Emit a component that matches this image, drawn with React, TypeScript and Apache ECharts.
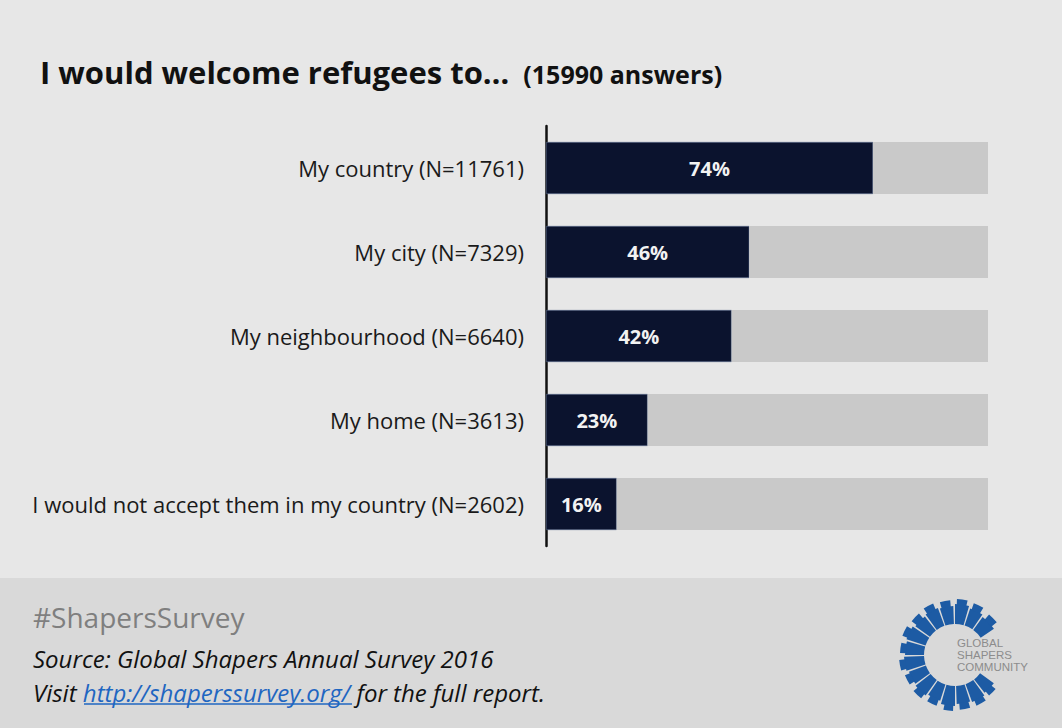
import React, { useEffect, useRef } from "react";
import * as echarts from "echarts";

const categories = [
  "My country (N=11761)",
  "My city (N=7329)",
  "My neighbourhood (N=6640)",
  "My home (N=3613)",
  "I would not accept them in my country (N=2602)",
];
const percentValues = [74, 46, 42, 23, 16];
const remainderValues = percentValues.map((v) => 100 - v);

const titleMain = "I would welcome refugees to…";
const titleSub = "(15990 answers)";
const hashtag = "#ShapersSurvey";
const sourceText = "Source: Global Shapers Annual Survey 2016";
const linkText = "http://shaperssurvey.org/";

// decorative logo segments: [startDeg, endDeg, outerRadius, towerStartDeg, towerEndDeg, towerRadius]
const logoSegments: [number, number, number, number, number, number][] = [
  [36, 52, 48, 40, 50, 53],
  [54, 70, 50, 56, 67, 55],
  [72, 88, 49, 74, 85, 55],
  [90, 106, 51, 92, 102, 56],
  [108, 124, 48, 110, 121, 54],
  [126, 142, 50, 128, 139, 55],
  [144, 160, 49, 147, 158, 54],
  [162, 178, 51, 164, 175, 56],
  [180, 196, 50, 182, 193, 55],
  [198, 214, 51, 200, 211, 56],
  [216, 232, 49, 218, 229, 55],
  [234, 250, 50, 236, 247, 56],
  [252, 268, 49, 254, 265, 55],
  [270, 286, 51, 272, 283, 56],
  [288, 304, 49, 290, 301, 55],
  [306, 326, 47, 310, 322, 53],
];

export default function App() {
  const ref = useRef<HTMLDivElement>(null);
  useEffect(() => {
    if (!ref.current) return;
    const chart = echarts.init(ref.current, undefined, { renderer: "svg" });
    const font = "'Open Sans', 'Noto Sans', sans-serif";
    const cx = 955;
    const cy = 655;
    const rad = (d: number) => (d * Math.PI) / 180;
    const logoEls: any[] = [];
    logoSegments.forEach(([a, b, r, ta, tb, tr]) => {
      logoEls.push({
        type: "sector",
        shape: { cx, cy, r0: 31, r, startAngle: rad(a), endAngle: rad(b) },
        style: { fill: "#1d5ba4" },
        silent: true,
      });
      logoEls.push({
        type: "sector",
        shape: { cx, cy, r0: r - 1, r: tr, startAngle: rad(ta), endAngle: rad(tb) },
        style: { fill: "#1d5ba4" },
        silent: true,
      });
    });
    const footSize = 24;
    chart.setOption({
      animation: false,
      backgroundColor: "#e7e7e7",
      textStyle: { fontFamily: font },
      grid: { left: 546, top: 126, width: 442, height: 420, containLabel: false },
      xAxis: {
        type: "value",
        min: 0,
        max: 100,
        show: false,
      },
      yAxis: {
        type: "category",
        data: categories,
        inverse: true,
        axisLine: { show: true, lineStyle: { color: "#111111", width: 2.5 } },
        axisTick: { show: false },
        axisLabel: { color: "#1a1a1a", fontSize: 22, margin: 22, fontFamily: font },
      },
      series: [
        {
          type: "bar",
          stack: "s",
          data: percentValues,
          barWidth: 52,
          itemStyle: { color: "#0b132e", borderColor: "#5d6d8f", borderWidth: 0.6 },
          label: {
            show: true,
            position: "inside",
            formatter: "{c}%",
            color: "#f2f2f2",
            fontSize: 20,
            fontWeight: "bold",
            fontFamily: font,
          },
        },
        {
          type: "bar",
          stack: "s",
          data: remainderValues,
          barWidth: 52,
          itemStyle: { color: "#c9c9c9" },
        },
      ],
      graphic: [
        {
          type: "rect",
          shape: { x: 0, y: 578, width: 1062, height: 150 },
          style: { fill: "#d9d9d9" },
          silent: true,
          z: -1,
        },
        {
          type: "text",
          x: 40,
          y: 72,
          style: {
            text: `{a|${titleMain}}{b|${titleSub}}`,
            verticalAlign: "middle",
            rich: {
              a: { fontSize: 31, fontWeight: "bold", fill: "#111111", fontFamily: font },
              b: {
                fontSize: 25,
                fontWeight: "bold",
                fill: "#111111",
                fontFamily: font,
                padding: [4, 0, 0, 14],
              },
            },
          } as any,
        },
        {
          type: "text",
          x: 33,
          y: 617,
          style: {
            text: hashtag,
            fontSize: 28,
            lineHeight: 32,
            fill: "#7f7f7f",
            fontFamily: font,
            verticalAlign: "middle",
          } as any,
        },
        {
          type: "text",
          x: 33,
          y: 658,
          style: {
            text: sourceText,
            fontSize: footSize,
            lineHeight: 28,
            fontStyle: "italic",
            fill: "#111111",
            fontFamily: font,
            verticalAlign: "middle",
          } as any,
        },
        {
          type: "text",
          x: 33,
          y: 692,
          style: {
            text: `{n|Visit }{l|${linkText}}{n| for the full report.}`,
            verticalAlign: "middle",
            rich: {
              n: { fontSize: footSize, lineHeight: 28, fontStyle: "italic", fill: "#111111", fontFamily: font },
              l: { fontSize: footSize, lineHeight: 28, fontStyle: "italic", fill: "#1f66c1", fontFamily: font },
            },
          } as any,
        },
        {
          type: "line",
          shape: { x1: 84, y1: 704, x2: 352, y2: 704 },
          style: { stroke: "#1f66c1", lineWidth: 1.5 },
        },
        ...logoEls,
        {
          type: "text",
          x: 957,
          y: 637,
          style: {
            text: "GLOBAL\nSHAPERS\nCOMMUNITY",
            fontSize: 11.5,
            lineHeight: 12,
            fill: "#8c8c8c",
            fontFamily: "'Liberation Sans', Arial, sans-serif",
          },
        },
      ],
    });
    return () => chart.dispose();
  }, []);
  return (
    <div
      ref={ref}
      style={{ position: "fixed", left: 0, top: 0, width: 1062, height: 728 }}
    />
  );
}
